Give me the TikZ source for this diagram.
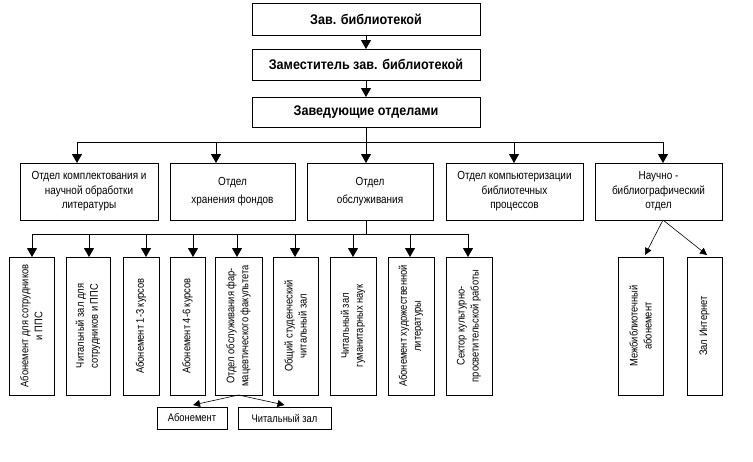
\documentclass[tikz,border=0pt]{standalone}
\usepackage{fontspec}
\setmainfont{Liberation Sans}
\newfontfamily\narrowfont[FakeStretch=0.85]{Liberation Sans}
\newfontfamily\topfont[FakeStretch=0.9]{Liberation Sans}
\usetikzlibrary{arrows.meta}
\begin{document}
\begin{tikzpicture}[x=1pt,y=-1pt,
  every node/.style={inner sep=0pt, outer sep=0pt},
  topbox/.style={draw, line width=0.8pt, minimum width=228pt, font=\topfont\bfseries\fontsize{14}{16}\selectfont},
  midbox/.style={draw, line width=0.8pt, minimum height=57pt, align=center, font=\narrowfont\fontsize{11.7}{14.5}\selectfont},
  vbox/.style={draw, line width=0.8pt, minimum height=138pt},
  vtext/.style={rotate=90, align=center, font=\narrowfont\fontsize{11}{14}\selectfont},
  sbox/.style={draw, line width=0.8pt, minimum height=22pt, font=\narrowfont\fontsize{11}{14}\selectfont},
  ln/.style={line width=0.8pt},
  arr/.style={line width=0.8pt, -{Triangle[length=9pt,width=10pt]}},
  sarr/.style={line width=0.6pt, -{Triangle[length=7pt,width=7pt]}}
]
\useasboundingbox (0,0) rectangle (753,461);
\fill[white] (0,0) rectangle (753,461);

% top chain
\node[topbox, minimum height=32pt] (T1) at (366,19) {Зав. библиотекой};
\node[topbox, minimum height=31pt] (T2) at (366,64.5) {Заместитель зав. библиотекой};
\node[topbox, minimum height=30pt] (T3) at (366,112) {Заведующие отделами};
\draw[arr] (T1.south) -- (T2.north);
\draw[arr] (T2.south) -- (T3.north);

% middle row
\node[midbox, minimum width=138pt] (MA) at (89,191.5) {Отдел комплектования и\\научной обработки\\литературы};
\node[midbox, minimum width=125pt] (MB) at (232.5,191.5) {Отдел\\[3.5pt]хранения фондов};
\node[midbox, minimum width=126pt] (MC) at (370,191.5) {Отдел\\[3.5pt]обслуживания};
\node[midbox, minimum width=137pt] (MD) at (514.5,191.5) {Отдел компьютеризации\\библиотечных\\процессов};
\node[midbox, minimum width=127pt] (ME) at (658.5,191.5) {Научно -\\библиографический\\отдел};

\coordinate (hA) at (77,142);
\coordinate (hB) at (216,142);
\coordinate (hD) at (514,142);
\coordinate (hE) at (663,142);
\draw[ln] (hA) -- (hE);
\draw[arr] (T3.south) -- (T3.south |- MC.north);
\draw[arr] (hA) -- (hA |- MA.north);
\draw[arr] (hB) -- (hB |- MB.north);
\draw[arr] (hD) -- (hD |- MD.north);
\draw[arr] (hE) -- (hE |- ME.north);

% bottom row
\node[vbox, minimum width=45pt] (B1) at (31.5,326) {};
\node[vbox, minimum width=44pt] (B2) at (88,326) {};
\node[vbox, minimum width=36pt] (B3) at (141,326) {};
\node[vbox, minimum width=35pt] (B4) at (187.5,326) {};
\node[vbox, minimum width=47pt] (B5) at (238.5,326) {};
\node[vbox, minimum width=45pt] (B6) at (295.5,326) {};
\node[vbox, minimum width=46pt] (B7) at (353,326) {};
\node[vbox, minimum width=46pt] (B8) at (411,326) {};
\node[vbox, minimum width=46pt] (B9) at (469,326) {};
\node[vbox, minimum width=45pt] (R1) at (640.5,326) {};
\node[vbox, minimum width=35pt] (R2) at (704.5,326) {};

\node[vtext] at (B1) {Абонемент для сотрудников\\и ППС};
\node[vtext] at (B2) {Читальный зал для\\сотрудников и ППС};
\node[vtext] at (B3) {Абонемент 1-3 курсов};
\node[vtext] at (B4) {Абонемент 4-6 курсов};
\node[vtext] at (B5) {Отдел обслуживания фар-\\мацевтического факультета};
\node[vtext] at (B6) {Общий студенческий\\читальный зал};
\node[vtext] at (B7) {Читальный зал\\гуманитарных наук};
\node[vtext] at (B8) {Абонемент художественной\\литературы};
\node[vtext] at (B9) {Сектор культурно-\\просветительской работы};
\node[vtext] at (R1) {Межбиблиотечный\\абонемент};
\node[vtext] at (R2) {Зал Интернет};

\coordinate (v1) at (32,234);
\coordinate (v2) at (89,234);
\coordinate (v3) at (146,234);
\coordinate (v4) at (193,234);
\coordinate (v5) at (237,234);
\coordinate (v6) at (295,234);
\coordinate (v7) at (353,234);
\coordinate (v8) at (410,234);
\coordinate (v9) at (468,234);
\coordinate (vC) at (366,234);
\draw[ln] (vC |- MC.south) -- (vC);
\draw[ln] (v1) -- (v9);
\foreach \i in {1,...,9} {\draw[arr] (v\i) -- (v\i |- B\i.north);}

% sub boxes
\node[sbox, minimum width=70pt] (S1) at (192,418) {Абонемент};
\node[sbox, minimum width=93pt] (S2) at (284.5,418) {Читальный зал};
\draw[sarr] (B5.south) -- ([xshift=1pt,yshift=2pt]S1.north);
\draw[sarr] (B5.south) -- ([yshift=2pt]S2.north);

\draw[sarr] ([xshift=4.5pt]ME.south) -- ([xshift=4.5pt,yshift=2pt]R1.north);
\draw[sarr] ([xshift=4.5pt]ME.south) -- ([xshift=2.5pt,yshift=2pt]R2.north);
\end{tikzpicture}
\end{document}
